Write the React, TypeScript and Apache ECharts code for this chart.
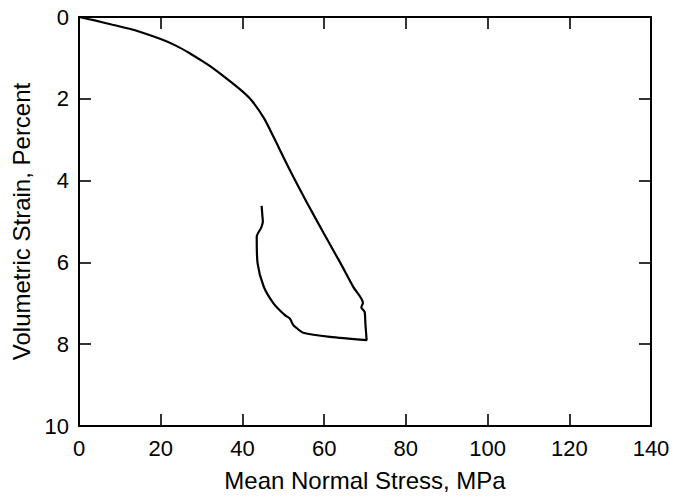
import React, { useEffect, useRef } from "react";
import * as echarts from "echarts";

// Mean normal stress (MPa) and volumetric strain (%) along the loading path, in order
const stressMPa = [
  0, 4.1, 8.2, 13.9, 20, 23.7, 27, 30.2, 32.6, 35.9, 40, 42.4, 45.3, 47.6,
  51.6, 55.8, 59.8, 63.9, 67.2, 69.5, 69.1, 69.9, 70.1, 70.4,
  61.4, 54.9, 53.3, 52.4, 51.6, 50.4, 47.6, 45.2, 43.7, 43.5, 44.6, 45.0, 44.9, 44.7,
];
const strainPct = [
  0, 0.09, 0.19, 0.33, 0.54, 0.7, 0.88, 1.08, 1.24, 1.49, 1.82, 2.06, 2.48, 2.93,
  3.74, 4.54, 5.27, 6.0, 6.61, 6.99, 7.1, 7.21, 7.5, 7.9,
  7.82, 7.72, 7.61, 7.53, 7.37, 7.29, 7.0, 6.59, 6.02, 5.37, 5.15, 5.0, 4.88, 4.62,
];

const xTicks = [0, 20, 40, 60, 80, 100, 120, 140];
const yTicks = [0, 2, 4, 6, 8, 10];

const FONT = "'Liberation Sans', Arial, sans-serif";

export default function App() {
  const ref = useRef<HTMLDivElement>(null);
  useEffect(() => {
    if (!ref.current) return;
    const chart = echarts.init(ref.current, null, { renderer: "svg" });
    const data = stressMPa.map((x, i) => [x, strainPct[i]]);
    const axisLine = { show: true, onZero: false, lineStyle: { color: "#000", width: 2 } };
    const axisTick = { show: true, inside: true, length: 12, lineStyle: { color: "#000", width: 1.6 } };
    const xMin = xTicks[0];
    const xMax = xTicks[xTicks.length - 1];
    const xInt = xTicks[1] - xTicks[0];
    const yMin = yTicks[0];
    const yMax = yTicks[yTicks.length - 1];
    const yInt = yTicks[1] - yTicks[0];
    chart.setOption({
      animation: false,
      backgroundColor: "#fff",
      grid: { left: 79, right: 24, top: 17, bottom: 72, containLabel: false },
      xAxis: [
        {
          type: "value",
          position: "bottom",
          min: xMin,
          max: xMax,
          interval: xInt,
          name: "Mean Normal Stress, MPa",
          nameLocation: "middle",
          nameGap: 42,
          nameTextStyle: { fontFamily: FONT, fontSize: 24, color: "#000" },
          axisLine,
          axisTick,
          splitLine: { show: false },
          axisLabel: { fontFamily: FONT, fontSize: 22, color: "#000", margin: 11 },
        },
        {
          type: "value",
          position: "top",
          min: xMin,
          max: xMax,
          interval: xInt,
          axisLine,
          axisTick,
          splitLine: { show: false },
          axisLabel: { show: false },
        },
      ],
      yAxis: [
        {
          type: "value",
          position: "left",
          inverse: true,
          min: yMin,
          max: yMax,
          interval: yInt,
          name: "Volumetric Strain, Percent",
          nameLocation: "middle",
          nameGap: 41,
          nameTextStyle: { fontFamily: FONT, fontSize: 24, color: "#000" },
          axisLine,
          axisTick,
          splitLine: { show: false },
          axisLabel: { fontFamily: FONT, fontSize: 22, color: "#000", margin: 10 },
        },
        {
          type: "value",
          position: "right",
          inverse: true,
          min: yMin,
          max: yMax,
          interval: yInt,
          axisLine,
          axisTick,
          splitLine: { show: false },
          axisLabel: { show: false },
        },
      ],
      series: [
        {
          type: "line",
          data,
          showSymbol: false,
          smooth: 0.25,
          lineStyle: { color: "#000", width: 2.2 },
          xAxisIndex: 0,
          yAxisIndex: 0,
        },
      ],
    });
    return () => chart.dispose();
  }, []);
  return (
    <div
      ref={ref}
      style={{ position: "fixed", left: 0, top: 0, width: 675, height: 498, background: "#fff" }}
    />
  );
}
